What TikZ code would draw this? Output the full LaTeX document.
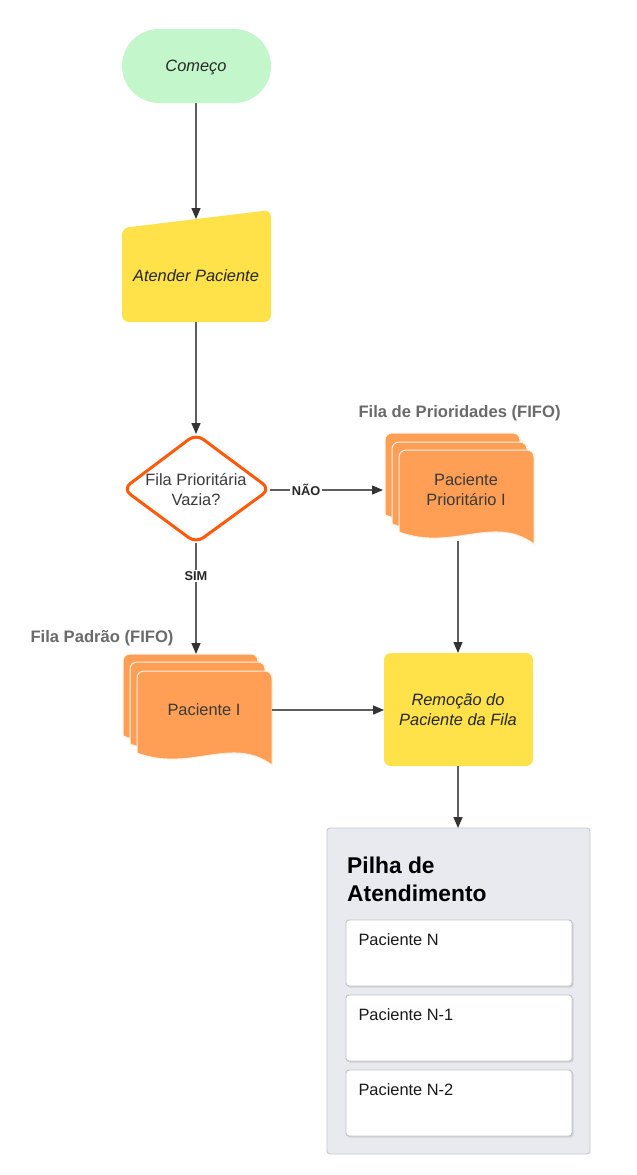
\documentclass[tikz,border=0pt]{standalone}
\usepackage{fontspec}
\setmainfont{Liberation Sans}
\usetikzlibrary{arrows.meta}
\definecolor{startgreen}{HTML}{C3F7CB}
\definecolor{procyellow}{HTML}{FFE14A}
\definecolor{docorange}{HTML}{FF9F55}
\definecolor{decorange}{HTML}{FF5A0A}
\definecolor{txtgray}{HTML}{3A3A3A}
\definecolor{lblgray}{HTML}{6A6A6A}
\definecolor{linegray}{HTML}{5E5E5E}
\definecolor{tipgray}{HTML}{333333}
\definecolor{panelgray}{HTML}{E8EAEF}
\definecolor{panelline}{HTML}{C6C9CF}
\definecolor{cardline}{HTML}{BDC1C7}
\tikzset{
  body/.style={font=\fontsize{16.4}{20}\selectfont, text=txtgray, align=center},
  bodyit/.style={body, font=\fontsize{16.4}{20}\selectfont\itshape, text=black!85},
  grouplbl/.style={font=\fontsize{16.6}{20}\selectfont\bfseries, text=lblgray},
  edgelbl/.style={font=\fontsize{12.8}{15}\selectfont\bfseries, text=black!85, fill=white, inner sep=1.5pt},
  conn/.style={draw=linegray, line width=1.3pt, -{Triangle[length=11pt,width=9pt,color=tipgray]}},
  connplain/.style={draw=linegray, line width=1.3pt},
  sheet/.style={fill=docorange, draw=white!85!docorange, line width=1pt},
  card/.style={fill=white, draw=cardline, line width=0.9pt, rounded corners=3pt},
  cardtxt/.style={font=\fontsize{16.4}{20}\selectfont, text=black!90, anchor=west},
}
\newcommand\docsheet[2]{%
  \path[sheet] (#1,#2+82) -- (#1,#2+10) [rounded corners=7] -- (#1,#2) -- (#1+135,#2) -- (#1+135,#2+10) [sharp corners] -- (#1+135,#2+94)
    .. controls (#1+94,#2+64) and (#1+54,#2+102) .. (#1,#2+82) -- cycle;}
\begin{document}
\begin{tikzpicture}[x=1pt,y=-1pt]
\useasboundingbox (0,0) rectangle (637,1175);
\fill[white] (0,0) rectangle (637,1175);

% Start
\fill[startgreen, rounded corners=37] (122,29) rectangle (271,103);
\node[bodyit] (start) at (196,67) {Começo};
\coordinate (startS) at (196,103);

% Atender paciente (manual input)
\fill[procyellow, rounded corners=7] (122,228) -- (271,210) -- (271,322) -- (122,322) -- cycle;
\node[bodyit] (atender) at (196,276) {Atender Paciente};
\coordinate (atenderN) at (196,219);
\coordinate (atenderS) at (196,322);

% Decision diamond
\draw[decorange, line width=3pt, fill=white, rounded corners=9, line join=round] (196,434) -- (270,489) -- (196,543) -- (123,489) -- cycle;
\node[body] (dec) at (196,490) {Fila Prioritária\\Vazia?};
\coordinate (decN) at (196,434);
\coordinate (decE) at (270,490);
\coordinate (decS) at (196,543);

% Priority queue stack
\node[grouplbl, anchor=west] (lblprio) at (355,413) {Fila de Prioridades (FIFO)};
\docsheet{385}{433}
\docsheet{392}{442}
\docsheet{399}{450}
\node[body] (prio) at (466,490) {Paciente\\Prioritário I};
\coordinate (prioW) at (383,490);
\coordinate (prioS) at (458,541);

% Standard queue stack
\node[grouplbl, anchor=east] (lblstd) at (177,638) {Fila Padrão (FIFO)};
\docsheet{123}{654}
\docsheet{130}{662}
\docsheet{137}{671}
\node[body] (std) at (204,710) {Paciente I};
\coordinate (stdN) at (196,654);
\coordinate (stdE) at (272,710);

% Remove from queue
\fill[procyellow, rounded corners=7] (384,653) rectangle (533,766);
\node[bodyit] (remove) at (458,710) {Remoção do\\Paciente da Fila};
\coordinate (removeN) at (458,653);
\coordinate (removeW) at (384,710);
\coordinate (removeS) at (458,766);

% Stack panel
\draw[fill=panelgray, draw=panelline, line width=0.9pt, rounded corners=3pt] (327,828) rectangle (590,1154);
\coordinate (panelN) at (458,828);
\node[anchor=north west, align=left, font=\fontsize{22.8}{28}\selectfont\bfseries, text=black, inner sep=0pt] (paneltitle) at (347,857) {Pilha de\\Atendimento};
\foreach \t/\lbl [count=\i] in {920/Paciente N,995/Paciente N-1,1070/Paciente N-2}{
  \fill[black!18, rounded corners=3pt] (347,\t+1.5) rectangle (573.5,\t+67.5);
  \path[card] (346,\t) rectangle (572,\t+66);
  \node[cardtxt] (card\i) at (355,\t+20) {\lbl};
}

% Connectors
\draw[conn] (startS) -- (atenderN);
\draw[conn] (atenderS) -- (decN);
\draw[conn] (decE) -- node[edgelbl, pos=0.32] (nao) {NÃO} (prioW);
\draw[conn] (decS) -- node[edgelbl, pos=0.3] (sim) {SIM} (stdN);
\draw[conn] (prioS) -- (removeN);
\draw[conn] (stdE) -- (removeW);
\draw[conn] (removeS) -- (panelN);
\end{tikzpicture}
\end{document}
